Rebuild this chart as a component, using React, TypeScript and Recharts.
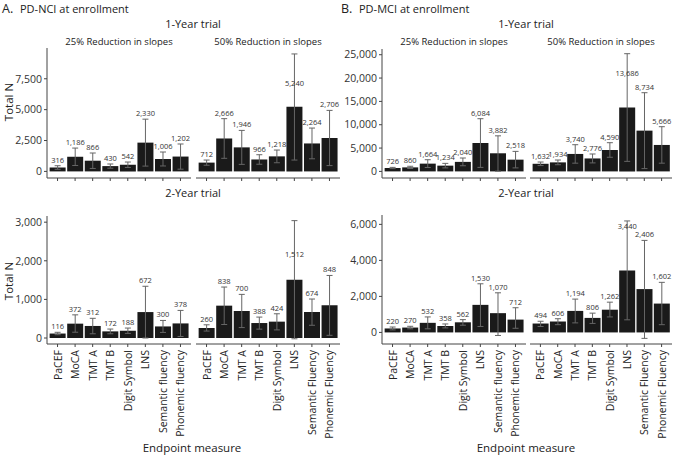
import { BarChart, Bar, XAxis, YAxis, ErrorBar, LabelList } from 'recharts';

const measures = ['PaCEF', 'MoCA', 'TMT A', 'TMT B', 'Digit Symbol', 'LNS', 'Semantic fluency', 'Phonemic fluency'];
const measures50 = ['PaCEF', 'MoCA', 'TMT A', 'TMT B', 'Digit Symbol', 'LNS', 'Semantic Fluency', 'Phonemic Fluency'];

// A. PD-NCI, 1-year trial
const nciY1r25 = [316, 1186, 866, 430, 542, 2330, 1006, 1202];
const nciY1r25Lo = [170, 480, 240, 260, 320, 430, 440, 180];
const nciY1r25Hi = [460, 1890, 1490, 600, 760, 4230, 1570, 2220];
const nciY1r50 = [712, 2666, 1946, 966, 1218, 5240, 2264, 2706];
const nciY1r50Lo = [500, 1060, 570, 580, 700, 920, 1020, 470];
const nciY1r50Hi = [920, 4270, 3320, 1350, 1730, 9510, 3510, 4940];
// A. PD-NCI, 2-year trial
const nciY2r25 = [116, 372, 312, 172, 188, 672, 300, 378];
const nciY2r25Lo = [85, 150, 110, 110, 120, 0, 145, 40];
const nciY2r25Hi = [148, 600, 510, 232, 258, 1340, 455, 715];
const nciY2r50 = [260, 838, 700, 388, 424, 1512, 674, 848];
const nciY2r50Lo = [180, 350, 270, 230, 210, -20, 330, 70];
const nciY2r50Hi = [342, 1320, 1130, 542, 628, 3040, 1010, 1620];
// B. PD-MCI, 1-year trial
const mciY1r25 = [726, 860, 1664, 1234, 2040, 6084, 3882, 2518];
const mciY1r25Lo = [590, 620, 830, 750, 1210, 860, 40, 750];
const mciY1r25Hi = [860, 1100, 2500, 1720, 2870, 11290, 7620, 4290];
const mciY1r50 = [1632, 1934, 3740, 2776, 4590, 13686, 8734, 5666];
const mciY1r50Lo = [1250, 1430, 1760, 1820, 3030, 2150, 600, 1760];
const mciY1r50Hi = [2010, 2440, 5720, 3730, 6150, 25220, 16860, 9580];
// B. PD-MCI, 2-year trial
const mciY2r25 = [220, 270, 532, 358, 562, 1530, 1070, 712];
const mciY2r25Lo = [140, 200, 200, 250, 400, 330, -170, 230];
const mciY2r25Hi = [300, 340, 860, 470, 710, 2700, 2200, 1370];
const mciY2r50 = [494, 606, 1194, 806, 1262, 3440, 2406, 1602];
const mciY2r50Lo = [330, 430, 530, 500, 860, 700, -330, 430];
const mciY2r50Hi = [620, 760, 1850, 1070, 1680, 6190, 5110, 2780];

// labels that sit inside the LNS error bar instead of above it
const nciY1r50LabelAt = [null, null, null, null, null, 6700, null, null];
const nciY2r50LabelAt = [null, null, null, null, null, 2030, null, null];
const mciY1r50LabelAt = [null, null, null, null, null, 19860, null, null];
const mciY2r50LabelAt = [null, null, null, null, null, 5595, null, null];

const nciY1Ticks = [0, 2500, 5000, 7500];
const nciY2Ticks = [0, 1000, 2000, 3000];
const mciY1Ticks = [0, 5000, 10000, 15000, 20000, 25000];
const mciY2Ticks = [0, 2000, 4000, 6000];

type Row = { m: string; n: number; err: [number, number]; lab: number };

const build = (names: string[], n: number[], lo: number[], hi: number[], labelAt?: (number | null)[]): Row[] =>
  names.map((m, i) => ({ m, n: n[i], err: [n[i] - lo[i], hi[i] - n[i]], lab: labelAt?.[i] ?? hi[i] }));

const AXIS = '#444';
const FONT = '"Open Sans", sans-serif';
const fmt = (v: number) => Number(v).toLocaleString('en-US');

function RotTick({ x, y, payload }: any) {
  return (
    <text transform={`translate(${x},${y}) rotate(-90)`} textAnchor="end" dominantBaseline="central"
      fontSize={10.5} fill="#222" fontFamily={FONT}>
      {payload.value}
    </text>
  );
}

function Facet({ left, top, w, h, domain, ticks, rows, showY, bottom }: {
  left: number; top: number; w: number; h: number; domain: [number, number]; ticks: number[];
  rows: Row[]; showY: boolean; bottom: boolean;
}) {
  const yW = showY ? 45 : 0;
  const xH = bottom ? 100 : 6;
  const mt = 2;
  const pad = w * 0.0122;
  return (
    <div style={{ position: 'absolute', left: left - yW, top: top - mt }}>
      <BarChart width={yW + w + 1} height={mt + h + xH} data={rows}
        margin={{ top: mt, right: 1, left: 0, bottom: 0 }} barCategoryGap="5%">
        <XAxis dataKey="m" height={xH} padding={{ left: pad, right: pad }} interval={0}
          axisLine={{ stroke: AXIS }} tickLine={{ stroke: AXIS }} tickSize={3} tickMargin={3}
          tick={bottom ? <RotTick /> : () => <g />} />
        <YAxis hide={!showY} width={yW} type="number" domain={domain} ticks={ticks} allowDataOverflow
          axisLine={{ stroke: AXIS }} tickLine={{ stroke: AXIS }} tickSize={3} tickMargin={2}
          tickFormatter={fmt} tick={{ fontSize: 10.5, fill: '#333', fontFamily: FONT }} />
        <Bar dataKey="n" fill="#1a1a1a" isAnimationActive={false}>
          <ErrorBar dataKey="err" width={3} stroke="#666" strokeWidth={1} direction="y" />
          <LabelList dataKey="n" content={(p: any) => {
            const r = rows[p.index];
            if (!r || !p.height) return null;
            const y0 = p.y + p.height;
            const ly = y0 - (r.lab * p.height) / r.n;
            return (
              <text x={p.x + p.width / 2} y={ly - 3} textAnchor="middle" fontSize={7.5}
                fill="#333" fontFamily={FONT}>{fmt(r.n)}</text>
            );
          }} />
        </Bar>
      </BarChart>
    </div>
  );
}

export default function App() {
  return (
    <div style={{ position: 'absolute', left: 0, top: 0, width: 677, height: 456, background: '#fff', fontFamily: FONT }}>
      <svg width={677} height={456} style={{ position: 'absolute', left: 0, top: 0 }} fontFamily={FONT} fill="#222">
        <text x={2} y={13} fontSize={12.5}>A.</text>
        <text x={20} y={13} fontSize={11}>PD-NCI at enrollment</text>
        <text x={341} y={13} fontSize={12.5}>B.</text>
        <text x={359} y={13} fontSize={11}>PD-MCI at enrollment</text>

        <text x={193} y={28} fontSize={11} textAnchor="middle">1-Year trial</text>
        <text x={526} y={28} fontSize={11} textAnchor="middle">1-Year trial</text>
        <text x={119} y={45} fontSize={9.5} textAnchor="middle">25% Reduction in slopes</text>
        <text x={268} y={45} fontSize={9.5} textAnchor="middle">50% Reduction in slopes</text>
        <text x={454} y={45} fontSize={9.5} textAnchor="middle">25% Reduction in slopes</text>
        <text x={601} y={45} fontSize={9.5} textAnchor="middle">50% Reduction in slopes</text>

        <text x={193} y={197} fontSize={11} textAnchor="middle">2-Year trial</text>
        <text x={526} y={197} fontSize={11} textAnchor="middle">2-Year trial</text>

        <text transform="translate(12.5,102) rotate(-90)" fontSize={11.5} textAnchor="middle">Total N</text>
        <text transform="translate(12.5,281) rotate(-90)" fontSize={11.5} textAnchor="middle">Total N</text>

        <text x={192} y={452} fontSize={11.5} textAnchor="middle">Endpoint measure</text>
        <text x={526} y={452} fontSize={11.5} textAnchor="middle">Endpoint measure</text>
      </svg>

      <Facet left={47} top={48} w={144} h={130} domain={[-534, 9992]} ticks={nciY1Ticks} showY bottom={false}
        rows={build(measures, nciY1r25, nciY1r25Lo, nciY1r25Hi)} />
      <Facet left={196} top={48} w={144} h={130} domain={[-534, 9992]} ticks={nciY1Ticks} showY={false} bottom={false}
        rows={build(measures50, nciY1r50, nciY1r50Lo, nciY1r50Hi, nciY1r50LabelAt)} />
      <Facet left={47} top={216} w={144} h={128} domain={[-155, 3160]} ticks={nciY2Ticks} showY bottom
        rows={build(measures, nciY2r25, nciY2r25Lo, nciY2r25Hi)} />
      <Facet left={196} top={216} w={144} h={128} domain={[-155, 3160]} ticks={nciY2Ticks} showY={false} bottom
        rows={build(measures50, nciY2r50, nciY2r50Lo, nciY2r50Hi, nciY2r50LabelAt)} />

      <Facet left={382} top={49} w={144} h={129} domain={[-1414, 26226]} ticks={mciY1Ticks} showY bottom={false}
        rows={build(measures, mciY1r25, mciY1r25Lo, mciY1r25Hi)} />
      <Facet left={530} top={49} w={142} h={129} domain={[-1414, 26226]} ticks={mciY1Ticks} showY={false} bottom={false}
        rows={build(measures50, mciY1r50, mciY1r50Lo, mciY1r50Hi, mciY1r50LabelAt)} />
      <Facet left={382} top={215} w={144} h={129} domain={[-643, 6520]} ticks={mciY2Ticks} showY bottom
        rows={build(measures, mciY2r25, mciY2r25Lo, mciY2r25Hi)} />
      <Facet left={530} top={215} w={142} h={129} domain={[-643, 6520]} ticks={mciY2Ticks} showY={false} bottom
        rows={build(measures50, mciY2r50, mciY2r50Lo, mciY2r50Hi, mciY2r50LabelAt)} />
    </div>
  );
}
